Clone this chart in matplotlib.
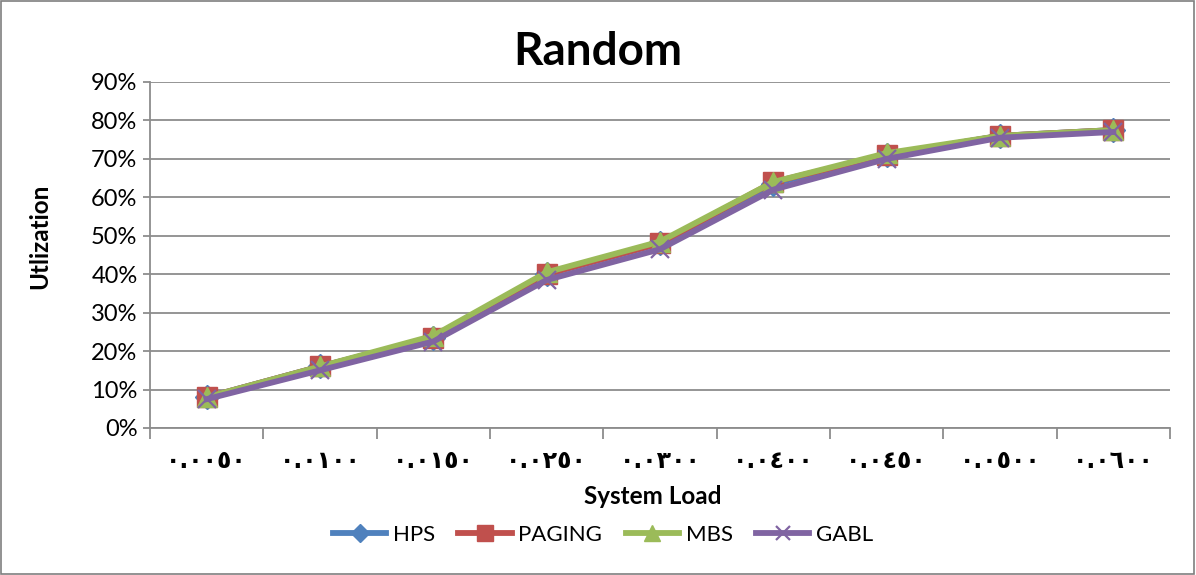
import matplotlib.pyplot as plt
import matplotlib.patches as patches
import numpy as np
from matplotlib.ticker import FixedLocator

# System load levels (Arabic-Indic digits) and utilization per scheme (%)
loads = ['٠.٠٠٥٠', '٠.٠١٠٠', '٠.٠١٥٠', '٠.٠٢٥٠', '٠.٠٣٠٠',
         '٠.٠٤٠٠', '٠.٠٤٥٠', '٠.٠٥٠٠', '٠.٠٦٠٠']
hps = [8, 16, 23.5, 40, 48, 63.5, 71, 76, 77.5]
paging = [8, 16, 23.5, 40, 48, 64, 71, 76, 77.5]
mbs = [8, 16, 24, 40.5, 48.5, 64, 71.5, 76, 77.5]
gabl = [7.5, 15, 22.5, 38.5, 46.5, 62, 70, 75.5, 77]

plt.rcParams['font.family'] = ['Lato', 'DejaVu Sans']

fig = plt.figure(figsize=(11.96, 5.75), dpi=100)
ax = fig.add_axes([150 / 1196, 1 - 428 / 575, 1020 / 1196, 346 / 575])

x = np.arange(len(loads))
series = [
    ('HPS', hps, '#4F81BD', 'D', 12),
    ('PAGING', paging, '#C0504D', 's', 14),
    ('MBS', mbs, '#9BBB59', '^', 14),
    ('GABL', gabl, '#8064A2', 'x', 13),
]
for name, vals, col, mk, ms in series:
    kw = dict(markeredgewidth=1.6) if mk == 'x' else dict(markeredgecolor=col)
    ax.plot(x, vals, color=col, lw=4.2, marker=mk, markersize=ms,
            label=name, solid_joinstyle='round', **kw)

ax.set_xlim(-0.5, len(loads) - 0.5)
ax.set_ylim(0, 90)
ax.set_yticks(np.arange(0, 91, 10))
ax.set_yticklabels([f'{v}%' for v in range(0, 91, 10)], fontsize=17)
ax.yaxis.grid(True, color='#8c8c8c', lw=1.3)
ax.set_axisbelow(True)

ax.set_xticks(x)
ax.set_xticklabels(loads, fontsize=17, family='DejaVu Sans', fontweight='bold')
ax.tick_params(axis='x', which='major', length=0, pad=15)
ax.xaxis.set_minor_locator(FixedLocator(np.arange(-0.5, len(loads), 1)))
ax.tick_params(axis='x', which='minor', length=8, color='#8c8c8c', width=1.3)
ax.tick_params(axis='y', length=5, color='#8c8c8c', width=1.3, pad=4)

for side in ['top', 'right']:
    ax.spines[side].set_visible(False)
for side in ['left', 'bottom']:
    ax.spines[side].set_color('#8c8c8c')
    ax.spines[side].set_linewidth(1.3)

fig.text(598 / 1196, 1 - 52 / 575, 'Random', ha='center', va='center',
         fontsize=33, fontweight='bold')
fig.text(40 / 1196, 1 - 236 / 575, 'Utlization', ha='center', va='center',
         rotation=90, fontsize=17.5, fontweight='bold')
fig.text(653 / 1196, 1 - 497 / 575, 'System Load', ha='center', va='center',
         fontsize=17.5, fontweight='bold')

fig.legend(loc='center', bbox_to_anchor=(603 / 1196, 1 - 535 / 575), ncol=4,
           frameon=False, fontsize=16, handlelength=2.4, columnspacing=1.05,
           handletextpad=0.3, markerscale=0.8)

fig.patches.append(patches.Rectangle((0.001, 0.002), 0.997, 0.996,
                                     transform=fig.transFigure, fill=False,
                                     edgecolor='#7f7f7f', lw=1.2))

plt.savefig('out.png', dpi=100)
